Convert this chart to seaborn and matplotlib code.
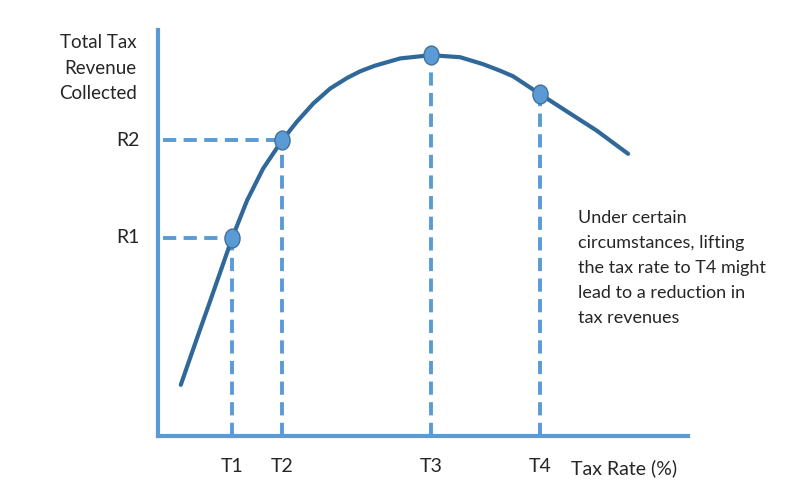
import matplotlib
matplotlib.use("Agg")
import matplotlib.pyplot as plt
import seaborn as sns
import pandas as pd
from matplotlib.path import Path
from matplotlib.transforms import Affine2D

# Laffer curve (x: tax rate, y: revenue, both 0-100)
curve_rate = [4.3, 6.0, 7.9, 9.8, 11.7, 14.0, 16.8, 19.8, 23.4, 26.2, 29.3,
              32.5, 35.7, 38.1, 40.9, 45.7, 51.5, 57.0, 61.3, 64.5, 67.0,
              72.1, 77.2, 82.8, 88.7]
curve_revenue = [12.6, 19.0, 26.1, 33.1, 40.2, 48.8, 58.0, 65.8, 72.8, 77.4,
                 81.9, 85.6, 88.2, 89.8, 91.2, 93.0, 93.8, 93.3, 91.6, 90.0,
                 88.6, 84.2, 79.9, 75.2, 69.5]

point_labels = ["T1", "T2", "T3", "T4"]
point_rate = [14.0, 23.4, 51.5, 72.1]
point_revenue = [48.8, 72.8, 93.8, 84.2]

revenue_labels = ["R1", "R2"]
revenue_levels = [48.8, 72.8]

note = ("Under certain\ncircumstances, lifting\nthe tax rate to T4 might\n"
        "lead to a reduction in\ntax revenues")

sns.set_style("white")
plt.rcParams["font.family"] = ["Lato", "DejaVu Sans"]

axis_blue = "#5B9BD5"
curve_blue = "#31689A"

fig = plt.figure(figsize=(8, 4.96), dpi=100)
ax = fig.add_axes([158 / 800, 60 / 496, 530 / 800, 406 / 496])
ax.set_xlim(0, 100)
ax.set_ylim(0, 100)
for side in ["top", "right"]:
    ax.spines[side].set_visible(False)
for side in ["left", "bottom"]:
    ax.spines[side].set_color(axis_blue)
    ax.spines[side].set_linewidth(3.0)
ax.set_xticks([])
ax.set_yticks([])

dash = (0, (3.4, 1.9))
for t, r in zip(point_rate, point_revenue):
    ax.plot([t, t], [0, r], color=axis_blue, lw=2.8, linestyle=dash, zorder=2)
for (t, r) in zip(point_rate[:2], revenue_levels):
    ax.plot([1.0, t], [r, r], color=axis_blue, lw=2.8, linestyle=dash, zorder=2)

curve = pd.DataFrame({"rate": curve_rate, "revenue": curve_revenue})
sns.lineplot(data=curve, x="rate", y="revenue", color=curve_blue, lw=3.0,
             sort=False, ax=ax, zorder=3, solid_joinstyle="round",
             solid_capstyle="round")

# slightly tall oval markers like the original
oval = Path.unit_circle().transformed(Affine2D().scale(0.8, 1.0))
pts = pd.DataFrame({"rate": point_rate, "revenue": point_revenue})
sns.scatterplot(data=pts, x="rate", y="revenue", s=185, color=axis_blue,
                marker=oval, edgecolor="#41719C", linewidth=1.0, ax=ax,
                zorder=4)
ax.set_xlabel("")
ax.set_ylabel("")

fs = 14
for lab, t in zip(point_labels, point_rate):
    ax.text(t, -7.4, lab, ha="center", va="center", fontsize=fs, clip_on=False)
for lab, r in zip(revenue_labels, revenue_levels):
    ax.text(-3.4, r, lab, ha="right", va="center", fontsize=fs, clip_on=False)

ax.text(-4.0, 90.6, "Total Tax\nRevenue\nCollected", ha="right", va="center",
        fontsize=13.5, linespacing=1.6, clip_on=False)
ax.text(78.0, -7.9, "Tax Rate (%)", ha="left", va="center", fontsize=fs,
        clip_on=False)
ax.text(79.2, 41.4, note, ha="left", va="center", fontsize=13,
        linespacing=1.68, clip_on=False)

fig.savefig("out.png", dpi=100)
